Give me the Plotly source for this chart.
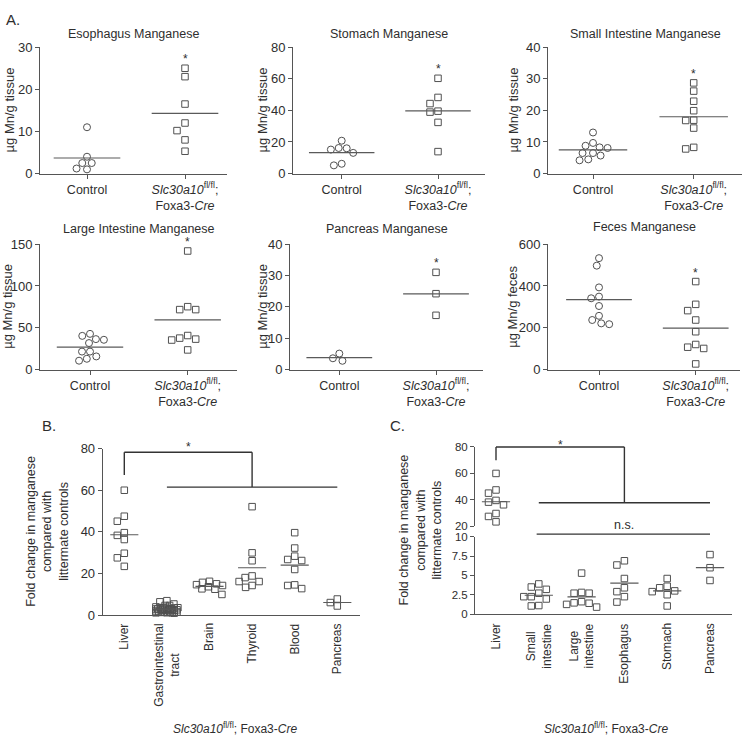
import numpy as np
import plotly.graph_objects as go

W, H = 745, 746
FONT = "Liberation Sans, Arial, sans-serif"
INK = "#2e2e2e"
AXIS = "#555555"
MARK = "#505050"
MEAN = "#5a5a5a"

# ---------------- panel A : µg Mn per g ----------------
groups_a = ["Control", "<i>Slc30a10</i><sup>fl/fl</sup>;<br>Foxa3-<i>Cre</i>"]

esoph_ctrl = [11.0, 4.0, 2.5, 2.5, 1.2, 1.0]
esoph_ko = [25.0, 23.0, 16.5, 12.0, 10.2, 8.0, 5.3]
stom_ctrl = [20.8, 16.2, 16.0, 15.2, 13.1, 6.2, 5.2]
stom_ko = [60.3, 48.2, 44.3, 39.5, 38.9, 32.4, 13.9]
small_ctrl = [13.0, 9.7, 8.8, 8.3, 8.1, 6.5, 6.5, 5.7, 4.5, 4.2]
small_ko = [28.7, 26.1, 22.9, 19.9, 16.9, 16.8, 14.4, 8.3, 7.8]
large_ctrl = [42.7, 40.3, 36.4, 35.6, 31.7, 21.5, 21.5, 15.7, 12.9, 10.6]
large_ko = [141.8, 75.2, 71.7, 71.7, 40.7, 37.6, 36.4, 35.3, 23.5]
panc_ctrl = [5.1, 3.6, 2.8]
panc_ko = [31.0, 24.2, 17.3]
feces_ctrl = [533, 497, 393, 349, 341, 304, 257, 237, 221, 217]
feces_ko = [421, 312, 282, 237, 181, 120, 107, 101, 27]

# ---------------- panels B / C : fold change ----------------
b_cats = ["Liver", "Gastrointestinal<br>tract", "Brain", "Thyroid", "Blood", "Pancreas"]
c_cats = ["Liver", "Small<br>intestine", "Large<br>intestine", "Esophagus", "Stomach", "Pancreas"]

liver_fold = [60.0, 47.5, 45.1, 39.6, 38.3, 36.3, 29.7, 27.5, 23.4]
brain_fold = [16.2, 15.7, 15.0, 14.6, 14.2, 13.6, 12.6, 12.4, 9.9]
thyroid_fold = [52.1, 29.9, 26.1, 18.8, 18.0, 16.1, 16.1, 14.2, 13.3]
blood_fold = [39.6, 32.2, 28.3, 26.7, 26.2, 21.9, 14.5, 14.2, 12.7]
pancreas_fold = [7.7, 6.0, 4.35]
small_fold = [3.9, 3.5, 3.2, 2.7, 2.25, 2.25, 1.95, 1.1, 1.05]
large_fold = [5.3, 2.8, 2.7, 2.7, 1.6, 1.45, 1.4, 1.25, 0.9]
esoph_fold = [6.9, 6.35, 4.6, 3.4, 2.9, 2.25, 1.55]
stom_fold = [4.6, 3.6, 3.4, 3.0, 2.9, 2.5, 1.05]
gi_fold = small_fold + large_fold + esoph_fold + stom_fold

# bracket / significance levels (axis units)
B_BRACKET = dict(liver_low=67.3, top=78.3, drop=61.5)
C_BRACKET = dict(liver_low=70.0, top=80.0, drop=37.8)
C_NS = 10.35


def dom_x(a, b):
    return [a / W, b / W]


def dom_y(top, bottom):
    return [1 - bottom / H, 1 - top / H]


def xrange_for(left, right, c0, u, n):
    return [-(c0 - left) / u, (n - 1) + (right - (c0 + (n - 1) * u)) / u]


def swarm(vals, ppu_y, ppu_x, d=7.5, cap=30.0, square=False):
    # greedy beeswarm in pixel space, returns offsets in category units
    vals = np.asarray(vals, float)
    order = np.argsort(-vals, kind="stable")
    placed = []
    off = np.zeros(len(vals))

    def dist(c, y, px, py):
        if square:
            return max(abs(c - px), abs(y - py))
        return np.hypot(c - px, y - py)

    for i in order:
        y = vals[i] * ppu_y
        cands = [0.0]
        for px, py in placed:
            dy = abs(py - y)
            if dy < d:
                dx = d if square else np.sqrt(d * d - dy * dy)
                cands += [px - dx, px + dx]
        ok = [c for c in cands
              if abs(c) <= cap and all(dist(c, y, px, py) >= d - 1e-6 for px, py in placed)]
        if ok:
            best = min(ok, key=lambda c: (round(abs(c), 3), c))
        else:
            grid = np.linspace(-cap, cap, 25)
            best = max(grid, key=lambda c: min(dist(c, y, px, py) for px, py in placed))
        placed.append((best, y))
        off[i] = best / ppu_x
    return off


def ypx_to_paper(p):
    return 1 - p / H


def note(text, x, y, xref="paper", yref="paper", size=12, **kw):
    d = dict(text=text, x=x, y=y, xref=xref, yref=yref, showarrow=False,
             xanchor="center", yanchor="middle", font=dict(family=FONT, size=size, color=INK))
    d.update(kw)
    return d


fig = go.Figure()
annotations = []
shapes = []

axis_common = dict(showgrid=False, zeroline=False, showline=True, linecolor=AXIS, linewidth=1,
                   ticks="outside", ticklen=4, tickwidth=1, tickcolor=AXIS,
                   tickfont=dict(family=FONT, size=13, color=INK))
xtick_font = dict(family=FONT, size=12.5, color=INK)

ROW1 = (41, 170)
ROW2 = (242, 370)

A_PANELS = [
    ("Esophagus Manganese", "µg Mn/g tissue", esoph_ctrl, esoph_ko, 30, 10, (40, 227, 87, 185), ROW1, 28, 9),
    ("Stomach Manganese", "µg Mn/g tissue", stom_ctrl, stom_ko, 80, 20, (293, 485, 341.7, 438), ROW1, 28, 262),
    ("Small Intestine Manganese", "µg Mn/g tissue", small_ctrl, small_ko, 40, 10, (548, 742, 593, 693.7), ROW1, 28, 513),
    ("Large Intestine Manganese", "µg Mn/g tissue", large_ctrl, large_ko, 150, 50, (40, 237, 90, 187.7), ROW2, 227, 8),
    ("Pancreas Manganese", "µg Mn/g tissue", panc_ctrl, panc_ko, 40, 10, (290, 483, 339.3, 436), ROW2, 227, 263),
    ("Feces Manganese", "µg Mn/g feces", feces_ctrl, feces_ko, 600, 200, (548, 740, 599, 695.7), ROW2, 225, 513),
]

HW = 0.34
for i, (title, ytitle, ctrl, ko, ymax, dtick, (L, R, c0, c1), (top, bot), ty, ytx) in enumerate(A_PANELS, start=1):
    xa, ya = f"x{i}", f"y{i}"
    u = c1 - c0
    ppu_y = (bot - top) / ymax
    fig.update_layout(**{
        "xaxis" if i == 1 else f"xaxis{i}": dict(
            axis_common, domain=dom_x(L, R), range=xrange_for(L, R, c0, u, 2), anchor=ya,
            tickvals=[0, 1], ticktext=groups_a, tickfont=xtick_font),
        "yaxis" if i == 1 else f"yaxis{i}": dict(
            axis_common, domain=dom_y(top, bot), range=[0, ymax], dtick=dtick, anchor=xa),
    })
    for k, (vals, sym) in enumerate([(ctrl, "circle-open"), (ko, "square-open")]):
        off = swarm(vals, ppu_y, u, d=8.0, square=(sym.startswith("square")))
        fig.add_trace(go.Scatter(
            x=k + off, y=vals, xaxis=xa, yaxis=ya, mode="markers", cliponaxis=False,
            marker=dict(symbol=sym, size=7 if k == 0 else 6.5, color=MARK, line=dict(width=1, color=MARK))))
        m = float(np.mean(vals))
        fig.add_trace(go.Scatter(x=[k - HW, k + HW], y=[m, m], xaxis=xa, yaxis=ya, mode="lines",
                                 line=dict(color=MEAN, width=1.2)))
    annotations.append(note("*", 1, max(ko), xref=xa, yref=ya, yshift=9))
    annotations.append(note(title, (L + R) / 2 / W, ypx_to_paper(ty), size=12.5))
    annotations.append(note(ytitle, ytx / W, ypx_to_paper((top + bot) / 2), size=13, textangle=-90))

# ---------------- panel B ----------------
BL, BR, BC0, BU = 102.7, 360, 124.3, 42.6
BTOP, BBOT = 450.7, 620.5
b_ppu = (BBOT - BTOP) / 80
fig.update_layout(
    xaxis7=dict(axis_common, domain=dom_x(BL, BR), range=xrange_for(BL, BR, BC0, BU, 6), anchor="y7",
                showticklabels=False, ticks=""),
    yaxis7=dict(axis_common, domain=dom_y(BTOP, BBOT), range=[0, 80], dtick=20, anchor="x7"),
)
b_groups = [liver_fold, gi_fold, brain_fold, thyroid_fold, blood_fold, pancreas_fold]
for k, vals in enumerate(b_groups):
    off = swarm(vals, b_ppu, BU, d=7.0, cap=11 if k == 1 else 13, square=True)
    fig.add_trace(go.Scatter(x=k + off, y=vals, xaxis="x7", yaxis="y7", mode="markers", cliponaxis=False,
                             marker=dict(symbol="square-open", size=6.5, color=MARK, line=dict(width=1, color=MARK))))
    m = float(np.mean(vals))
    fig.add_trace(go.Scatter(x=[k - 0.33, k + 0.33], y=[m, m], xaxis="x7", yaxis="y7", mode="lines",
                             line=dict(color=MEAN, width=1.2)))
    annotations.append(note(b_cats[k], k, ypx_to_paper(627), xref="x7", textangle=-90,
                            yanchor="top", align="center"))

line_dark = dict(color="#333333", width=1.4)
for (x0, y0, x1, y1) in [(0, B_BRACKET["liver_low"], 0, B_BRACKET["top"]),
                         (0, B_BRACKET["top"], 3, B_BRACKET["top"]),
                         (3, B_BRACKET["top"], 3, B_BRACKET["drop"]),
                         (1, B_BRACKET["drop"], 5, B_BRACKET["drop"])]:
    shapes.append(dict(type="line", xref="x7", yref="y7", x0=x0, y0=y0, x1=x1, y1=y1, line=line_dark))
annotations.append(note("*", 1.5, B_BRACKET["top"], xref="x7", yref="y7", yshift=5))

# ---------------- panel C (broken axis) ----------------
CL, CR, CC0, CU = 475, 731.7, 496, 42.8
UP_TOP, UP_BOT = 449, 530
LO_TOP, LO_BOT = 540.7, 619.5
c_tickfont = dict(family=FONT, size=11.5, color=INK)
fig.update_layout(
    xaxis8=dict(axis_common, domain=dom_x(CL, CR), range=xrange_for(CL, CR, CC0, CU, 6), anchor="y8",
                showticklabels=False, ticks=""),
    yaxis8=dict(axis_common, domain=dom_y(LO_TOP, LO_BOT), range=[0, 10], tickvals=[0, 2.5, 5, 7.5, 10],
                ticktext=["0", "2.5", "5", "7.5", "10"], anchor="x8", tickfont=c_tickfont),
    yaxis9=dict(axis_common, domain=dom_y(UP_TOP, UP_BOT), range=[20, 80], dtick=20, anchor="x8",
                tickfont=c_tickfont),
)
up_ppu = (UP_BOT - UP_TOP) / 60
lo_ppu = (LO_BOT - LO_TOP) / 10


def c_paper(v, upper):
    if upper:
        return ypx_to_paper(UP_BOT - (v - 20) * up_ppu)
    return ypx_to_paper(LO_BOT - v * lo_ppu)


c_groups = [liver_fold, small_fold, large_fold, esoph_fold, stom_fold, pancreas_fold]
for k, vals in enumerate(c_groups):
    ya = "y9" if k == 0 else "y8"
    ppu = up_ppu if k == 0 else lo_ppu
    off = swarm(vals, ppu, CU, d=7.5, square=True)
    fig.add_trace(go.Scatter(x=k + off, y=vals, xaxis="x8", yaxis=ya, mode="markers", cliponaxis=False,
                             marker=dict(symbol="square-open", size=6.5, color=MARK, line=dict(width=1, color=MARK))))
    m = float(np.mean(vals))
    fig.add_trace(go.Scatter(x=[k - 0.33, k + 0.33], y=[m, m], xaxis="x8", yaxis=ya, mode="lines",
                             line=dict(color=MEAN, width=1.2)))
    annotations.append(note(c_cats[k], k, ypx_to_paper(627), xref="x8", textangle=-90,
                            yanchor="top", align="center"))

for (x0, v0, x1, v1) in [(0, C_BRACKET["liver_low"], 0, C_BRACKET["top"]),
                         (0, C_BRACKET["top"], 3, C_BRACKET["top"]),
                         (3, C_BRACKET["top"], 3, C_BRACKET["drop"]),
                         (1, C_BRACKET["drop"], 5, C_BRACKET["drop"])]:
    shapes.append(dict(type="line", xref="x8", yref="paper", x0=x0, x1=x1,
                       y0=c_paper(v0, True), y1=c_paper(v1, True), line=line_dark))
shapes.append(dict(type="line", xref="x8", yref="paper", x0=0.95, x1=5, y0=c_paper(C_NS, False),
                   y1=c_paper(C_NS, False), line=line_dark))
annotations.append(note("*", 1.5, c_paper(C_BRACKET["top"], True), xref="x8", yshift=2))
annotations.append(note("n.s.", 3, c_paper(C_NS, False), xref="x8", yanchor="bottom", size=12.5))

# y titles and bottom titles for B and C
fold_title = "Fold change in manganese<br>compared with<br>littermate controls"
for xp, yc in [(48, (BTOP + BBOT) / 2), (421, (UP_TOP + LO_BOT) / 2)]:
    annotations.append(note(fold_title, xp / W, ypx_to_paper(yc), size=12.5, textangle=-90, align="center"))
geno = "<i>Slc30a10</i><sup>fl/fl</sup>; Foxa3-<i>Cre</i>"
for xp in [235, 606]:
    annotations.append(note(geno, xp / W, ypx_to_paper(736)))

# panel letters
for txt, xp, yp in [("A.", 13, 13), ("B.", 49, 427), ("C.", 397, 427)]:
    annotations.append(note(txt, xp / W, ypx_to_paper(yp), size=15))

fig.update_layout(
    width=W, height=H, margin=dict(l=0, r=0, t=0, b=0),
    paper_bgcolor="white", plot_bgcolor="white", showlegend=False,
    font=dict(family=FONT, size=12, color=INK),
    annotations=annotations, shapes=shapes,
)

# pin the graph to the window corner so page margins do not shift it
PIN = ("var gd=document.getElementById('{plot_id}');"
       "document.documentElement.style.overflow='hidden';"
       "document.body.style.margin='0';document.body.style.overflow='hidden';"
       "gd.style.position='fixed';gd.style.left='0px';gd.style.top='0px';")
fig.write_html("out.html", post_script=PIN, config={"displayModeBar": False})
